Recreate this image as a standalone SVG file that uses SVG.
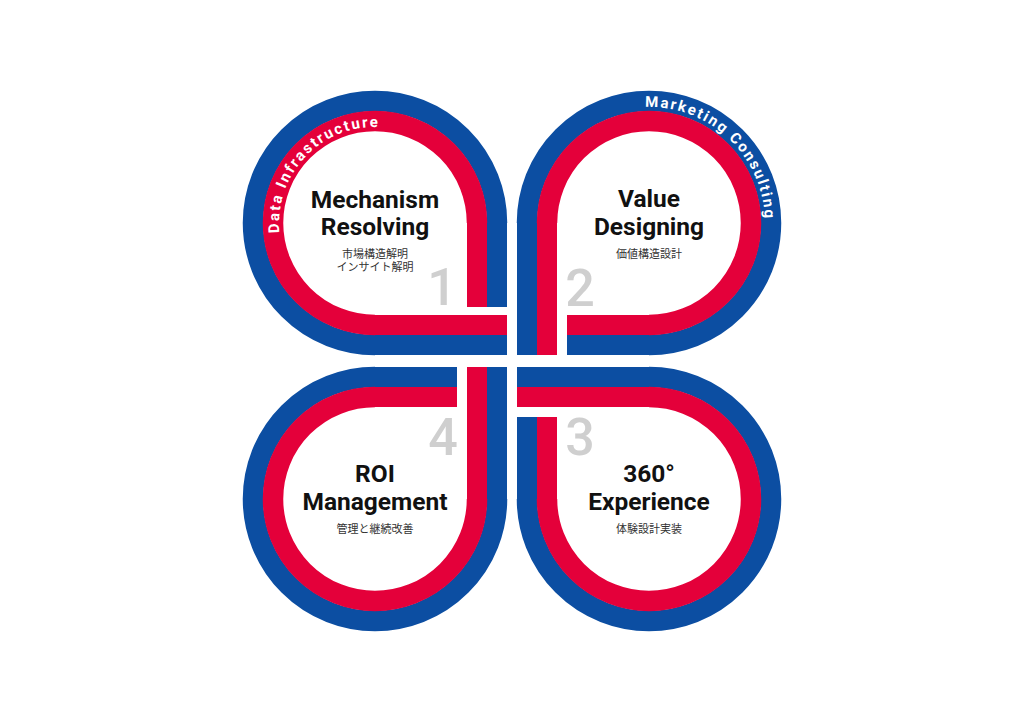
<svg xmlns="http://www.w3.org/2000/svg" width="1024" height="724" viewBox="0 0 1024 724">
<style>
.bs{fill:none;stroke:#0c4ea2;stroke-width:20.5}
.rs{fill:none;stroke:#e4003a;stroke-width:20.5}
.b{fill:#0c4ea2}
.r{fill:#e4003a}
.t{font-family:Roboto,"Liberation Sans",sans-serif;font-weight:700;font-size:24.5px;fill:#111;text-anchor:middle}
.j{font-family:"Noto Sans CJK JP",sans-serif;font-size:11px;fill:#333;text-anchor:middle}
.n{font-family:Roboto,"Liberation Sans",sans-serif;font-weight:500;font-size:52px;fill:#cfcfcf;text-anchor:middle}
.a{font-family:Roboto,"Liberation Sans",sans-serif;font-weight:700;font-size:15px;fill:#fff}
</style>
<defs>
<path id="p1" d="M 279.53 233.03 A 96 96 0 0 1 423 139.86"/>
<path id="p2" d="M 644.95 107.07 A 116 116 0 0 1 763.24 243.14"/>
</defs>
<rect width="1024" height="724" fill="#fff"/>
<g id="connectors">
<rect class="r" x="467" y="222" width="20" height="85"/>
<rect class="b" x="487" y="222" width="20" height="85"/>
<rect class="r" x="374" y="315" width="133" height="20"/>
<rect class="b" x="374" y="335" width="133" height="20"/>
<rect class="b" x="517" y="222" width="20" height="133"/>
<rect class="r" x="537" y="222" width="20" height="133"/>
<rect class="r" x="567" y="315" width="83" height="20"/>
<rect class="b" x="567" y="335" width="83" height="20"/>
<rect class="b" x="517" y="367" width="133" height="20"/>
<rect class="r" x="517" y="387" width="133" height="20"/>
<rect class="b" x="517" y="417" width="20" height="83"/>
<rect class="r" x="537" y="417" width="20" height="83"/>
<rect class="r" x="467" y="367" width="20" height="133"/>
<rect class="b" x="487" y="367" width="20" height="133"/>
<rect class="b" x="374" y="367" width="83" height="20"/>
<rect class="r" x="374" y="387" width="83" height="20"/>
</g>
<g id="node1">
<path class="bs" d="M 375 345 A 122 122 0 1 1 497 223"/>
<path class="rs" d="M 375 325 A 102 102 0 1 1 477 223"/>
<text class="a" letter-spacing="2"><textPath href="#p1">Data Infrastructure</textPath></text>
<text class="t" x="375" y="208">Mechanism</text>
<text class="t" x="375" y="235">Resolving</text>
<text class="j" x="375" y="257.5">市場構造解明</text>
<text class="j" x="375" y="271">インサイト解明</text>
<text class="n" x="442" y="305">1</text>
</g>
<g id="node2">
<path class="bs" d="M 527 223 A 122 122 0 1 1 649 345"/>
<path class="rs" d="M 547 223 A 102 102 0 1 1 649 325"/>
<text class="a" letter-spacing="1.9" font-size="15.5"><textPath href="#p2">Marketing Consulting</textPath></text>
<text class="t" x="649" y="207">Value</text>
<text class="t" x="649" y="235">Designing</text>
<text class="j" x="649" y="257.5">価値構造設計</text>
<text class="n" x="580" y="306">2</text>
</g>
<g id="node3">
<path class="bs" d="M 649 377 A 122 122 0 1 1 527 499"/>
<path class="rs" d="M 649 397 A 102 102 0 1 1 547 499"/>
<text class="t" x="649" y="482">360°</text>
<text class="t" x="649" y="510">Experience</text>
<text class="j" x="649" y="533">体験設計実装</text>
<text class="n" x="580" y="455">3</text>
</g>
<g id="node4">
<path class="bs" d="M 497 499 A 122 122 0 1 1 375 377"/>
<path class="rs" d="M 477 499 A 102 102 0 1 1 375 397"/>
<text class="t" x="375" y="482">ROI</text>
<text class="t" x="375" y="510">Management</text>
<text class="j" x="375" y="533">管理と継続改善</text>
<text class="n" x="443" y="455">4</text>
</g>
</svg>
